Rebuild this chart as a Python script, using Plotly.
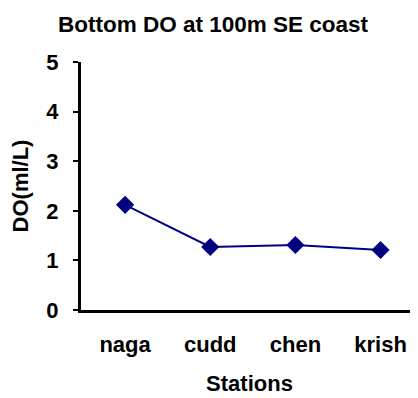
import plotly.graph_objects as go

stations = ["naga", "cudd", "chen", "krish"]
do_values = [2.12, 1.27, 1.31, 1.21]
y_ticks = [0, 1, 2, 3, 4, 5]

font_fam = "Liberation Sans, Arial, sans-serif"

fig = go.Figure()
fig.add_trace(go.Scatter(
    x=stations, y=do_values, mode="lines+markers",
    line=dict(color="#000080", width=2),
    marker=dict(symbol="diamond", size=14, color="#000080"),
))

fig.update_layout(
    width=410, height=390,
    margin=dict(l=73, r=0, t=54, b=88),
    paper_bgcolor="white", plot_bgcolor="white",
    showlegend=False,
    title=dict(text="<b>Bottom DO at 100m SE coast</b>", x=0.5, xanchor="center",
               y=1 - 16 / 390, yanchor="middle", yref="container",
               font=dict(family=font_fam, size=22.5, color="black")),
    font=dict(family=font_fam, color="black"),
)
fig.update_xaxes(
    type="category", range=[-0.518, 3.44], automargin=False,
    showline=True, linecolor="black", linewidth=3,
    ticks="", showgrid=False, zeroline=False, ticklabelstandoff=13,
    tickfont=dict(size=22, family=font_fam, color="black", weight="bold"),
    title=dict(text="<b>Stations</b>", font=dict(size=22, family=font_fam), standoff=20),
)
fig.update_yaxes(
    range=[0, 5], tickvals=y_ticks, automargin=False,
    showline=True, linecolor="black", linewidth=3,
    ticks="outside", ticklen=5, tickwidth=2, tickcolor="black",
    showgrid=False, zeroline=False, ticklabelstandoff=10,
    tickfont=dict(size=22, family=font_fam, color="black", weight="bold"),
    title=dict(text="<b>DO(ml/L)</b>", font=dict(size=22, family=font_fam), standoff=15),
)

fig.write_html("out.html")
